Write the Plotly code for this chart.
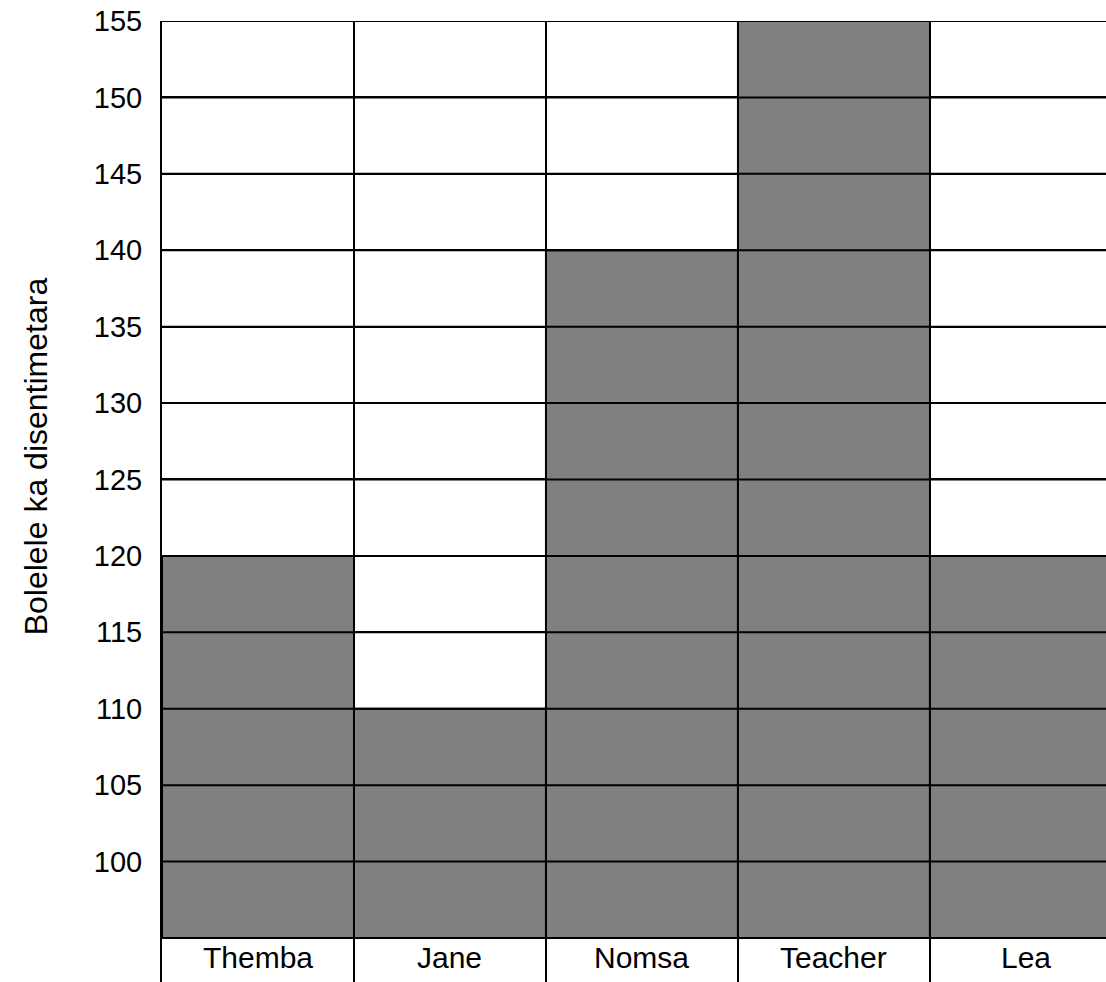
import plotly.graph_objects as go

names = ["Themba", "Jane", "Nomsa", "Teacher", "Lea"]
heights_cm = [120, 110, 140, 155, 120]
baseline = 95
y_tick_vals = [95, 100, 105, 110, 115, 120, 125, 130, 135, 140, 145, 150, 155]
y_tick_text = ["", "100", "105", "110", "115", "120", "125", "130", "135", "140", "145", "150", "155"]
y_title = "Bolelele ka disentimetara"
y_min_view = 92.12
y_max_view = 155
label_row_y = 93.7

FONT = "Liberation Sans, Arial, sans-serif"

fig = go.Figure()
fig.add_trace(go.Bar(
    x=names,
    y=[h - baseline for h in heights_cm],
    base=baseline,
    width=1.0,
    marker=dict(color="#808080", line=dict(color="black", width=2)),
    hoverinfo="skip",
))

# horizontal grid lines drawn above the bars, as in the reference
for v in y_tick_vals:
    fig.add_shape(type="line", xref="paper", yref="y", x0=0, x1=1, y0=v, y1=v,
                  line=dict(color="black", width=2), layer="above")

for n in names:
    fig.add_annotation(x=n, y=label_row_y, text=n, showarrow=False,
                       font=dict(family=FONT, size=30, color="black"),
                       xanchor="center", yanchor="middle")

fig.add_annotation(xref="paper", yref="paper", x=0, y=0.547, xshift=-126,
                   text=y_title, textangle=-90, showarrow=False,
                   xanchor="center", yanchor="middle",
                   font=dict(family=FONT, size=32, color="black"))

fig.update_layout(
    width=1106, height=982,
    margin=dict(l=162, r=0, t=21, b=0, autoexpand=False),
    plot_bgcolor="white", paper_bgcolor="white",
    showlegend=False,
    bargap=0,
    font=dict(family=FONT, color="black"),
    xaxis=dict(
        type="category",
        range=[-0.5, 4.417],
        tickson="boundaries",
        showgrid=True, gridcolor="black", gridwidth=2,
        showticklabels=False, ticks="",
        showline=False, zeroline=False,
        automargin=False,
    ),
    yaxis=dict(
        range=[y_min_view, y_max_view],
        tickvals=y_tick_vals, ticktext=y_tick_text,
        showgrid=True, gridcolor="black", gridwidth=2,
        showline=True, linecolor="black", linewidth=2,
        zeroline=False, ticks="",
        ticklabelstandoff=12,
        automargin=False,
        layer="above traces",
        tickfont=dict(family=FONT, size=29, color="black"),
    ),
)

fig.write_html("out.html",
               config={"displayModeBar": False, "staticPlot": True},
               post_script="document.body.style.margin='0';document.body.style.overflow='hidden';")
